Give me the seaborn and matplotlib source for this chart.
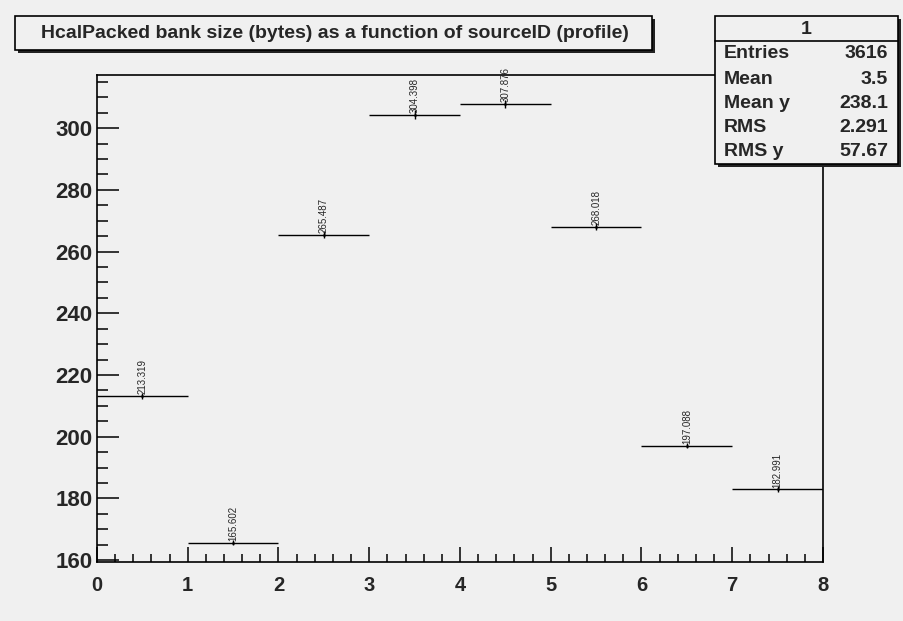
"""
Profile of HcalPacked bank size vs sourceID, drawn in a ROOT-like style
"""

import numpy as np
import pandas as pd
import matplotlib
matplotlib.use("Agg")
import matplotlib.pyplot as plt
from matplotlib.patches import Rectangle
from matplotlib.ticker import MultipleLocator
import seaborn as sns

# Data
source_id = [0, 1, 2, 3, 4, 5, 6, 7]
bank_size = [213.319, 165.602, 265.487, 304.398, 307.876, 268.018, 197.088, 182.991]
bank_size_err = [1.0, 0.8, 1.2, 1.3, 1.3, 1.2, 0.9, 0.9]
bin_width = 1.0

stat_names = ["Entries", "Mean", "Mean y", "RMS", "RMS y"]
stat_values = ["3616", "3.5", "238.1", "2.291", "57.67"]
histo_name = "1"
title = "HcalPacked bank size (bytes) as a function of sourceID (profile)"

BG = "#f0f0f0"
W, H = 904, 621

sns.set_style("ticks")
plt.rcParams["font.family"] = ["Liberation Sans", "DejaVu Sans"]
plt.rcParams["font.weight"] = "bold"


def fx(px):
    return px / W


def fy(py):
    return 1 - py / H


fig = plt.figure(figsize=(W / 100, H / 100), dpi=100, facecolor=BG)
ax = fig.add_axes([fx(97), fy(562), (823 - 97) / W, (562 - 75) / H], facecolor=BG)

centers = np.array(source_id) + bin_width / 2
df = pd.DataFrame({"sourceID": centers, "size": bank_size})

ax.errorbar(centers, bank_size, xerr=bin_width / 2, yerr=bank_size_err,
            fmt="none", ecolor="black", elinewidth=1.0, capsize=0)
sns.scatterplot(data=df, x="sourceID", y="size", ax=ax, marker="o", s=4,
                color="black", edgecolor="black", linewidth=0, zorder=3)

# value labels above each bin
for c, v in zip(centers, bank_size):
    ax.annotate(f"{v:.3f}", (c, v), xytext=(0, 1), textcoords="offset points",
                rotation=90, ha="center", va="bottom", fontsize=7,
                fontweight="normal", annotation_clip=False)

ax.set_xlim(0, 8)
ax.set_ylim(159.4, 317.2)
ax.set_xlabel("")
ax.set_ylabel("")
ax.xaxis.set_major_locator(MultipleLocator(1))
ax.xaxis.set_minor_locator(MultipleLocator(0.2))
ax.yaxis.set_major_locator(MultipleLocator(20))
ax.yaxis.set_minor_locator(MultipleLocator(5))
ax.tick_params(which="both", direction="in", top=False, right=False,
               color="black", width=1.1)
ax.tick_params(axis="y", which="major", length=16, pad=3, labelsize=16)
ax.tick_params(axis="y", which="minor", length=8)
ax.tick_params(axis="x", which="major", length=11, pad=10, labelsize=14.5)
ax.tick_params(axis="x", which="minor", length=5.5)
for lab in ax.get_xticklabels() + ax.get_yticklabels():
    lab.set_fontweight("bold")
for sp in ax.spines.values():
    sp.set_visible(True)
    sp.set_color("black")
    sp.set_linewidth(1.2)

# title box with shadow
sh = 3
fig.add_artist(Rectangle((fx(15 + sh), fy(50 + sh)), fx(652 - 15), (50 - 16) / H,
                         transform=fig.transFigure, facecolor="#222222",
                         edgecolor="none", zorder=10))
fig.add_artist(Rectangle((fx(15), fy(50)), fx(652 - 15), (50 - 16) / H,
                         transform=fig.transFigure, facecolor=BG,
                         edgecolor="black", linewidth=1.2, zorder=11))
fig.text(fx(335), fy(33), title, ha="center", va="center", fontsize=14,
         fontweight="bold", zorder=12)

# stats box with shadow
fig.add_artist(Rectangle((fx(715 + sh), fy(164 + sh)), fx(898 - 715), (164 - 16) / H,
                         transform=fig.transFigure, facecolor="#222222",
                         edgecolor="none", zorder=10))
fig.add_artist(Rectangle((fx(715), fy(164)), fx(898 - 715), (164 - 16) / H,
                         transform=fig.transFigure, facecolor=BG,
                         edgecolor="black", linewidth=1.2, zorder=11))
fig.add_artist(plt.Line2D([fx(715), fx(898)], [fy(41), fy(41)],
                          transform=fig.transFigure, color="black",
                          linewidth=1.2, zorder=12))
fig.text(fx(806), fy(29), histo_name, ha="center", va="center", fontsize=14,
         fontweight="bold", zorder=12)
row_y = [53, 79, 104, 128, 152]
for name, val, y in zip(stat_names, stat_values, row_y):
    fig.text(fx(724), fy(y), name, ha="left", va="center", fontsize=14,
             fontweight="bold", zorder=12)
    fig.text(fx(888), fy(y), val, ha="right", va="center", fontsize=14,
             fontweight="bold", zorder=12)

plt.savefig("out.png", dpi=100, facecolor=BG)
plt.close()
